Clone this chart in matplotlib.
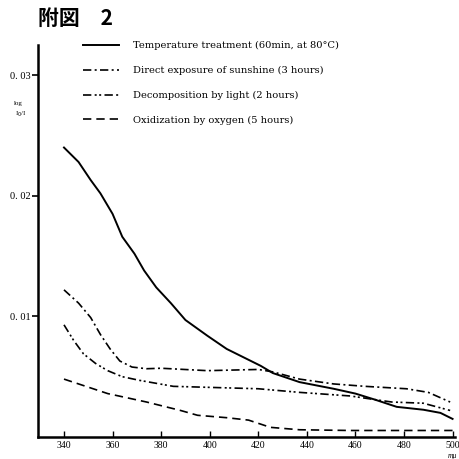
import matplotlib
matplotlib.use("Agg")
import matplotlib.pyplot as plt

# wavelength (m-mu) and log(I0/I)
temp_nm = [340, 346, 351, 355, 360, 364, 369, 373, 378, 384, 390, 399, 407, 415, 421, 426, 437, 451, 460,
           468, 477, 488, 495, 500]
temp_val = [0.0240, 0.0228, 0.0213, 0.0202, 0.0185, 0.0166, 0.0152, 0.0138, 0.0124, 0.0111, 0.0097, 0.0084,
            0.0073, 0.0065, 0.0059, 0.0053, 0.00455, 0.0040, 0.0036, 0.0031, 0.0025, 0.00226, 0.0020, 0.0015]

sun_nm = [340, 346, 351, 355, 359, 363, 368, 374, 380, 399, 420, 426, 437, 451, 464, 481, 490, 499]
sun_val = [0.0122, 0.0111, 0.0099, 0.0085, 0.0073, 0.0063, 0.0058, 0.00566, 0.0057, 0.0055, 0.0056, 0.0054,
           0.0048, 0.0044, 0.0042, 0.0040, 0.0037, 0.0029]

light_nm = [340, 344, 348, 353, 358, 364, 371, 385, 420, 437, 458, 468, 475, 488, 499]
light_val = [0.0093, 0.0080, 0.0069, 0.0061, 0.0055, 0.0050, 0.0047, 0.0042, 0.0040, 0.0037, 0.0034, 0.0031,
             0.0029, 0.0028, 0.0022]

oxy_nm = [340, 358, 374, 388, 395, 407, 416, 425, 437, 458, 500]
oxy_val = [0.0048, 0.0036, 0.0029, 0.0022, 0.0018, 0.0016, 0.0014, 0.0008, 0.0006, 0.00054, 0.00054]

labels = ["Temperature treatment (60min, at 80°C)",
          "Direct exposure of sunshine (3 hours)",
          "Decomposition by light (2 hours)",
          "Oxidization by oxygen (5 hours)"]

xticks = [340, 360, 380, 400, 420, 440, 460, 480, 500]
yticks = [0.01, 0.02, 0.03]
ytick_labels = ["0. 01", "0. 02", "0. 03"]

serif = "Liberation Serif"

fig = plt.figure(figsize=(4.59, 4.59), dpi=100)
ax = fig.add_axes([38 / 459, 22 / 459, 417 / 459, 392 / 459])

ax.plot(temp_nm, temp_val, color="black", lw=1.4, label=labels[0])
ax.plot(sun_nm, sun_val, color="black", lw=1.2, dashes=[5, 2, 1.2, 2], label=labels[1])
ax.plot(light_nm, light_val, color="black", lw=1.2, dashes=[5, 2, 1.2, 1.5, 1.2, 2], label=labels[2])
ax.plot(oxy_nm, oxy_val, color="black", lw=1.2, dashes=[5, 3], label=labels[3])

ax.set_xlim(329.3, 501)
ax.set_ylim(0, 0.0325)

for s in ["top", "right"]:
    ax.spines[s].set_visible(False)
for s in ["left", "bottom"]:
    ax.spines[s].set_linewidth(1.8)

ax.set_xticks(xticks)
ax.set_xticklabels([str(t) for t in xticks], fontsize=7, family=serif)
ax.tick_params(axis="x", direction="in", length=4, width=1, pad=3)
ax.set_yticks(yticks)
ax.set_yticklabels(ytick_labels, fontsize=7.5, family=serif)
ax.tick_params(axis="y", direction="out", length=4, width=1.2, pad=1)

ax.text(500, -0.00158, "mμ", fontsize=5.5, style="italic", family=serif, ha="center", va="center")
fig.text(14 / 459, 1 - 104 / 459, "log", fontsize=5, family=serif, ha="left", va="center")
fig.text(15 / 459, 1 - 114 / 459, "I$_0$/I", fontsize=5, family=serif, ha="left", va="center")

leg = ax.legend(loc="upper left", bbox_to_anchor=(40.6 / 417, 1.02), frameon=False,
                prop={"family": "DejaVu Serif", "size": 7.1}, handlelength=3.7, handletextpad=1.4,
                labelspacing=1.6, borderaxespad=0)

fig.text(38 / 459, 1 - 8 / 459, "附図　2", fontsize=15, fontweight="bold",
         family=["Noto Sans CJK JP", "DejaVu Sans"], ha="left", va="top")

fig.savefig("out.png", dpi=100)
